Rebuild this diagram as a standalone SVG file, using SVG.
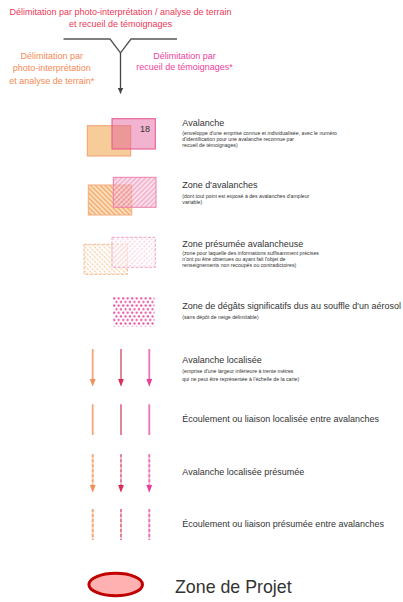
<svg xmlns="http://www.w3.org/2000/svg" width="403" height="602" viewBox="0 0 403 602">
<style>
.t{font-family:"Liberation Sans",Arial,sans-serif;font-size:9px;fill:#333}
.s{font-family:"Liberation Sans",Arial,sans-serif;font-size:5.2px;fill:#333}
.hd{font-family:"Liberation Sans",Arial,sans-serif;font-size:9px;text-anchor:middle}
</style>
<defs>
<pattern id="hO" width="3.4" height="3.4" patternUnits="userSpaceOnUse" patternTransform="rotate(-45)">
<rect width="3.4" height="3.4" fill="#fce4c8"/><line x1="1" y1="0" x2="1" y2="3.4" stroke="#f4b074" stroke-width="1.7"/>
</pattern>
<pattern id="hP" width="3.4" height="3.4" patternUnits="userSpaceOnUse" patternTransform="rotate(45)">
<rect width="3.4" height="3.4" fill="#f9d6e3"/><line x1="1" y1="0" x2="1" y2="3.4" stroke="#ea7eaa" stroke-width="1.7"/>
</pattern>
<pattern id="hOl" width="3.4" height="3.4" patternUnits="userSpaceOnUse" patternTransform="rotate(-45)">
<rect width="3.4" height="3.4" fill="#fff"/><line x1="1" y1="0" x2="1" y2="3.4" stroke="#f8cfa4" stroke-width="1.2" stroke-dasharray="2 1"/>
</pattern>
<pattern id="hPl" width="3.4" height="3.4" patternUnits="userSpaceOnUse" patternTransform="rotate(45)">
<rect width="3.4" height="3.4" fill="#fff"/><line x1="1" y1="0" x2="1" y2="3.4" stroke="#f4b4cf" stroke-width="1.2" stroke-dasharray="2 1"/>
</pattern>
<pattern id="dots" x="113" y="297" width="4.5" height="7.2" patternUnits="userSpaceOnUse">
<circle cx="1.2" cy="1.3" r="1.1" fill="#e8409a"/><circle cx="3.45" cy="4.9" r="1.1" fill="#e8409a"/>
</pattern>
<marker id="mG" viewBox="0 0 10 10" refX="10" refY="5" markerWidth="6" markerHeight="6" markerUnits="userSpaceOnUse" orient="auto"><path d="M0,0L10,5L0,10z" fill="#444"/></marker>
</defs>

<g id="header">
<text class="hd" x="120.5" y="15" fill="#ec3858">Délimitation par photo-interprétation / analyse de terrain</text>
<text class="hd" x="120.5" y="26.5" fill="#ec3858">et recueil de témoignages</text>
<text class="hd" x="51.7" y="58.5" fill="#f58a55">Délimitation par</text>
<text class="hd" x="51.7" y="71" fill="#f58a55">photo-interprétation</text>
<text class="hd" x="51.7" y="83.5" fill="#f58a55">et analyse de terrain*</text>
<text class="hd" x="184.5" y="58.5" fill="#ee3fa0">Délimitation par</text>
<text class="hd" x="184.5" y="70" fill="#ee3fa0">recueil de témoignages*</text>
</g>

<g id="connectors" fill="none">
<polyline points="63.5,39 110,39 120.5,53 131,39 177,39" stroke="#555" stroke-width="1.3"/>
<line x1="120.5" y1="53" x2="120.5" y2="93.5" stroke="#444" stroke-width="1.3" marker-end="url(#mG)"/>
</g>

<g id="avalanche">
<rect x="87.3" y="125.7" width="43.4" height="30.3" fill="#f6cc98" stroke="#f0a070" stroke-width="1"/>
<rect x="112" y="118.7" width="43.3" height="30.3" fill="#e2609a" fill-opacity="0.48" stroke="#e8508e" stroke-width="1"/>
<text class="t" x="140" y="131.5">18</text>
<text class="t" x="182.3" y="125.5">Avalanche</text>
<text class="s" x="182.3" y="134.8">(enveloppe d'une emprise connue et individualisée, avec le numéro</text>
<text class="s" x="182.3" y="140.7">d'identification pour une avalanche reconnue par</text>
<text class="s" x="182.3" y="146.6">recueil de témoignages)</text>
</g>

<g id="zone-avalanches">
<rect x="88.3" y="185" width="43.4" height="30" fill="url(#hO)" stroke="#f3ac7c" stroke-width="1"/>
<rect x="113.3" y="177.3" width="42.7" height="30" fill="url(#hP)" fill-opacity="0.6" stroke="#ec80ab" stroke-width="1"/>
<text class="t" x="182.3" y="188.3">Zone d'avalanches</text>
<text class="s" x="182.3" y="197.8">(dont tout point est exposé à des avalanches d'ampleur</text>
<text class="s" x="182.3" y="203.7">variable)</text>
</g>

<g id="zone-presumee">
<rect x="84" y="244.3" width="43.3" height="30" fill="url(#hOl)" stroke="#f5b890" stroke-width="1" stroke-dasharray="3 1.5"/>
<rect x="112" y="237.3" width="43.3" height="30" fill="url(#hPl)" fill-opacity="0.6" stroke="#f0a0c4" stroke-width="1" stroke-dasharray="3 1.5"/>
<text class="t" x="182.3" y="247.3">Zone présumée avalancheuse</text>
<text class="s" x="182.3" y="255.3">(zone pour laquelle des informations suffisamment précises</text>
<text class="s" x="182.3" y="261.2">n'ont pu être obtenues ou ayant fait l'objet de</text>
<text class="s" x="182.3" y="267.1">renseignements non recoupés ou contradictoires)</text>
</g>

<g id="zone-degats">
<rect x="113" y="297" width="41.5" height="29.5" fill="url(#dots)"/>
<text class="t" x="182.3" y="309.3">Zone de dégâts significatifs dus au souffle d'un aérosol</text>
<text class="s" x="182.3" y="319.3">(sans dépôt de neige délimitable)</text>
</g>

<g id="avalanche-localisee">
<line x1="92.7" y1="349" x2="92.7" y2="380" stroke="#f4a47a" stroke-width="1.8"/>
<path d="M89.8,379 L95.6,379 L92.7,386.7z" fill="#f0905a"/>
<line x1="121" y1="349" x2="121" y2="380" stroke="#e07890" stroke-width="1.8"/>
<path d="M118.1,379 L123.9,379 L121,386.7z" fill="#d83058"/>
<line x1="149.3" y1="349" x2="149.3" y2="380" stroke="#f070b4" stroke-width="1.8"/>
<path d="M146.4,379 L152.2,379 L149.3,386.7z" fill="#e8409a"/>
<text class="t" x="182.3" y="363.3">Avalanche localisée</text>
<text class="s" x="182.3" y="373">(emprise d'une largeur inférieure à trente mètres</text>
<text class="s" x="182.3" y="381.3">qui ne peut être représentée à l'échelle de la carte)</text>
</g>

<g id="ecoulement-localise">
<line x1="92.7" y1="404.3" x2="92.7" y2="435" stroke="#f4a47a" stroke-width="1.8"/>
<line x1="121" y1="404.3" x2="121" y2="435" stroke="#e07890" stroke-width="1.8"/>
<line x1="149.3" y1="404.3" x2="149.3" y2="435" stroke="#f070b4" stroke-width="1.8"/>
<text class="t" x="182.3" y="421.7">Écoulement ou liaison localisée entre avalanches</text>
</g>

<g id="avalanche-presumee">
<line x1="92.7" y1="454.3" x2="92.7" y2="486" stroke="#fad2bc" stroke-width="1.8"/>
<line x1="92.7" y1="454.3" x2="92.7" y2="486" stroke="#f4a47a" stroke-width="1.8" stroke-dasharray="3 2"/>
<path d="M89.8,485 L95.6,485 L92.7,492.7z" fill="#f0905a"/>
<line x1="121" y1="454.3" x2="121" y2="486" stroke="#f2c2cf" stroke-width="1.8"/>
<line x1="121" y1="454.3" x2="121" y2="486" stroke="#e07890" stroke-width="1.8" stroke-dasharray="3 2"/>
<path d="M118.1,485 L123.9,485 L121,492.7z" fill="#d83058"/>
<line x1="149.3" y1="454.3" x2="149.3" y2="486" stroke="#f8c4de" stroke-width="1.8"/>
<line x1="149.3" y1="454.3" x2="149.3" y2="486" stroke="#f070b4" stroke-width="1.8" stroke-dasharray="3 2"/>
<path d="M146.4,485 L152.2,485 L149.3,492.7z" fill="#e8409a"/>
<text class="t" x="182.3" y="475">Avalanche localisée présumée</text>
</g>

<g id="ecoulement-presume">
<line x1="92.7" y1="509" x2="92.7" y2="540" stroke="#fad2bc" stroke-width="1.8"/>
<line x1="92.7" y1="509" x2="92.7" y2="540" stroke="#f4a47a" stroke-width="1.8" stroke-dasharray="3 2"/>
<line x1="121" y1="509" x2="121" y2="540" stroke="#f2c2cf" stroke-width="1.8"/>
<line x1="121" y1="509" x2="121" y2="540" stroke="#e07890" stroke-width="1.8" stroke-dasharray="3 2"/>
<line x1="149.3" y1="509" x2="149.3" y2="540" stroke="#f8c4de" stroke-width="1.8"/>
<line x1="149.3" y1="509" x2="149.3" y2="540" stroke="#f070b4" stroke-width="1.8" stroke-dasharray="3 2"/>
<text class="t" x="182.3" y="526.7">Écoulement ou liaison présumée entre avalanches</text>
</g>

<g id="zone-projet">
<ellipse cx="115.7" cy="584.5" rx="26.8" ry="11.3" fill="#ffb0b0" stroke="#c00000" stroke-width="3"/>
<text x="175" y="593.3" style="font-family:'Liberation Sans',Arial,sans-serif;font-size:17.8px;fill:#333">Zone de Projet</text>
</g>
</svg>
